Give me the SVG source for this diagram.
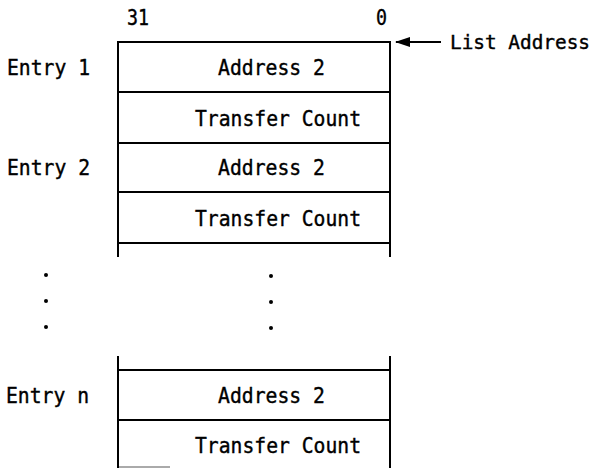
<svg xmlns="http://www.w3.org/2000/svg" width="597" height="470" viewBox="0 0 597 470">
<style>
text{font-family:"DejaVu Sans Mono","Liberation Mono",monospace;font-size:22px;fill:#000;stroke:#000;stroke-width:0.4}
.ln{stroke:#000;stroke-width:2;fill:none}
.dot{fill:#000}
</style>
<defs>
<marker id="ah" markerWidth="15" markerHeight="10" refX="14" refY="5" orient="auto" markerUnits="userSpaceOnUse">
<path d="M0,0 L15,5 L0,10 Z" fill="#000"/>
</marker>
</defs>
<rect width="597" height="470" fill="#fff"/>
<g id="header">
<text x="127" y="25" textLength="22" lengthAdjust="spacingAndGlyphs">31</text>
<text x="376" y="25" textLength="11" lengthAdjust="spacingAndGlyphs">0</text>
</g>
<g id="entry1">
<text x="7" y="75" textLength="83" lengthAdjust="spacingAndGlyphs">Entry 1</text>
<rect class="ln" x="118" y="42" width="272" height="50"/>
<text x="218" y="75" textLength="107" lengthAdjust="spacingAndGlyphs">Address 2</text>
</g>
<g id="entry1-count">
<rect class="ln" x="118" y="92" width="272" height="51"/>
<text x="195" y="126" textLength="166" lengthAdjust="spacingAndGlyphs">Transfer Count</text>
</g>
<g id="entry2">
<text x="7" y="175" textLength="83" lengthAdjust="spacingAndGlyphs">Entry 2</text>
<rect class="ln" x="118" y="143" width="272" height="49"/>
<text x="218" y="175" textLength="107" lengthAdjust="spacingAndGlyphs">Address 2</text>
</g>
<g id="entry2-count">
<path class="ln" d="M118,192 H390 M118,243 H390 M118,192 V257 M390,192 V257"/>
<text x="195" y="226" textLength="166" lengthAdjust="spacingAndGlyphs">Transfer Count</text>
</g>
<g id="ellipsis">
<circle class="dot" cx="46" cy="275" r="2"/>
<circle class="dot" cx="46" cy="301" r="2"/>
<circle class="dot" cx="46" cy="327" r="2"/>
<circle class="dot" cx="271" cy="276" r="2"/>
<circle class="dot" cx="271" cy="302" r="2"/>
<circle class="dot" cx="271" cy="328" r="2"/>
</g>
<g id="entryn">
<text x="6" y="403" textLength="83" lengthAdjust="spacingAndGlyphs">Entry n</text>
<path class="ln" d="M118,356 V420 M390,356 V420 M118,370 H390 M118,420 H390"/>
<text x="218" y="403" textLength="107" lengthAdjust="spacingAndGlyphs">Address 2</text>
</g>
<g id="entryn-count">
<path class="ln" d="M118,420 V468 M390,420 V468"/>
<path d="M119,467 H170" stroke="#aaa" stroke-width="2"/>
<text x="195" y="453" textLength="166" lengthAdjust="spacingAndGlyphs">Transfer Count</text>
</g>
<g id="list-address">
<text x="450" y="49" style="font-size:19.5px" textLength="140" lengthAdjust="spacingAndGlyphs">List Address</text>
</g>
<g id="connectors">
<line class="ln" x1="441" y1="42" x2="396" y2="42" marker-end="url(#ah)"/>
</g>
</svg>
